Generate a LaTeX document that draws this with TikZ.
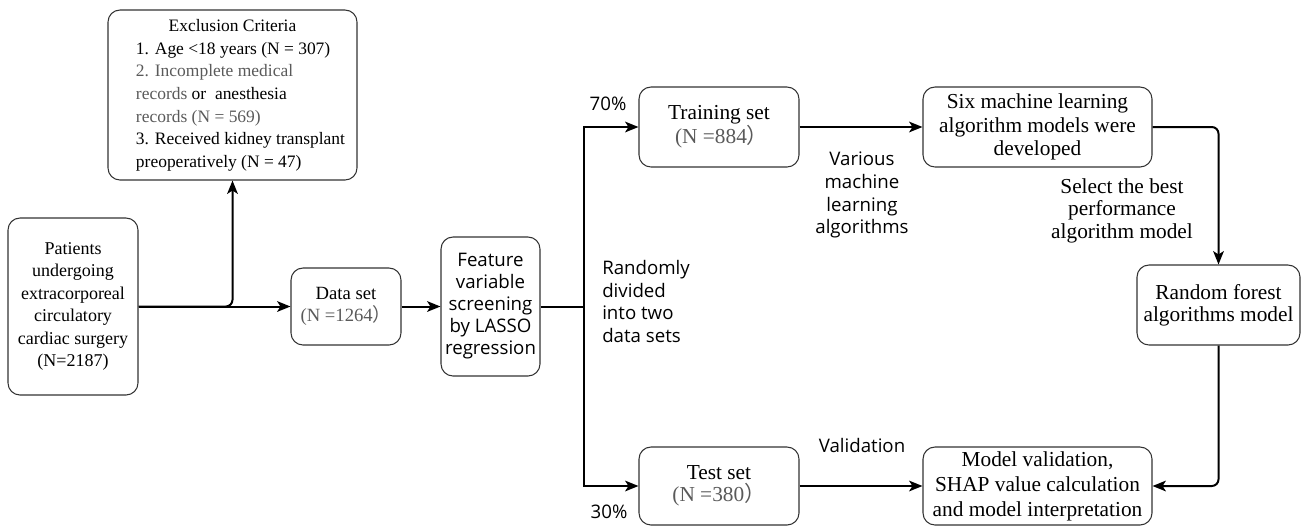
\documentclass[tikz,border=0pt]{standalone}
\usepackage{fontspec}
\setmainfont{Liberation Serif}
\setsansfont{Open Sans}
\newfontfamily\cjk{Noto Sans CJK SC}
\usetikzlibrary{arrows.meta}
\definecolor{ngray}{RGB}{90,90,90}
\newcommand\fwparen{{\cjk ）}}
\begin{document}
\begin{tikzpicture}[x=0.75pt,y=-0.75pt,
  box/.style={draw=black!80, line width=0.8pt, rounded corners=9pt, align=center, inner sep=2pt},
  arr/.style={line width=1.5pt, -{Stealth[length=10pt,width=8pt,inset=2.5pt]}},
  ln/.style={line width=1.5pt},
  lab/.style={font=\sffamily\fontsize{14}{17}\selectfont, inner sep=0pt},
  serlab/.style={font=\fontsize{16}{16.9}\selectfont, inner sep=0pt},
  big/.style={font=\fontsize{16}{16.5}\selectfont}]
\useasboundingbox (0,0) rectangle (1304,526);

% boxes
\node[box, minimum width=186.75pt, minimum height=127.5pt,
      font=\fontsize{13.1}{16.9}\selectfont] (excl) at (232.5,95)
  {\begin{tabular}{@{\hspace{12pt}}l@{}}
   \multicolumn{1}{@{}c@{}}{Exclusion Criteria}\\
   1. Age <18 years (N = 307)\\
   \textcolor{ngray}{2. Incomplete medical}\\
   \textcolor{ngray}{records} or\ \ anesthesia\\
   \textcolor{ngray}{records (N = 569)}\\
   3. Received kidney transplant\\
   preoperatively (N = 47)
   \end{tabular}};

\node[box, minimum width=97.5pt, minimum height=132.75pt,
      font=\fontsize{13.5}{16.9}\selectfont] (pat) at (73,306.5)
  {Patients\\undergoing\\extracorporeal\\circulatory\\cardiac surgery\\(N=2187)};

\node[box, minimum width=82.5pt, minimum height=57.75pt,
      font=\fontsize{14}{16.5}\selectfont] (data) at (346,306.5)
  {Data set\\\textcolor{ngray}{(N =1264\fwparen}};

\node[box, minimum width=74.25pt, minimum height=104.25pt,
      font=\sffamily\fontsize{14}{16.5}\selectfont] (feat) at (490.5,306.5)
  {Feature\\variable\\screening\\by LASSO\\regression};

\node[box, big, minimum width=120pt, minimum height=60pt] (train) at (719,127)
  {Training set\\\textcolor{ngray}{\ (N =884\fwparen}};

\node[box, minimum width=171.75pt, minimum height=60pt,
      font=\fontsize{16}{17.5}\selectfont] (six) at (1037.5,127)
  {Six machine learning\\algorithm models were\\developed};

\node[box, big, minimum width=122.25pt, minimum height=60pt] (rf) at (1218.5,305)
  {Random forest\\algorithms model};

\node[box, big, minimum width=120pt, minimum height=58.5pt] (test) at (719,486)
  {Test set\\\textcolor{ngray}{(N =380\fwparen}};

\node[box, minimum width=171.75pt, minimum height=58.5pt,
      font=\fontsize{16}{18.75}\selectfont] (model) at (1037.5,486)
  {Model validation,\\SHAP value calculation\\and model interpretation};

% labels
\node[lab, anchor=base] (p70) at (608,110) {70\%};
\node[lab, anchor=base] (p30) at (609,518) {30\%};
\node[lab, align=left, anchor=north west] (rand) at (602,260)
  {Randomly\\divided\\into two\\data sets};
\node[lab, align=center, anchor=north] (various) at (862,152)
  {Various\\machine\\learning\\algorithms};
\node[serlab, align=center, anchor=north] (select) at (1122,178)
  {Select the best\\performance\\algorithm model};
\node[lab, anchor=base] (valid) at (862,452) {Validation};

% connectors
\coordinate (split) at (583.5,306.5);
\draw[arr] (pat.east) -- (data.west);
\draw[arr, rounded corners=5pt] (pat.east) -| (excl.south);
\draw[arr] (data.east) -- (feat.west);
\draw[ln] (feat.east) -- (split);
\draw[arr] (split) |- (train.west);
\draw[arr] (split) |- (test.west);
\draw[arr] (train.east) -- (six.west);
\draw[arr, rounded corners=5pt] (six.east) -| (rf.north);
\draw[arr, rounded corners=5pt] (rf.south) |- (model.east);
\draw[arr] (test.east) -- (model.west);
\end{tikzpicture}
\end{document}
